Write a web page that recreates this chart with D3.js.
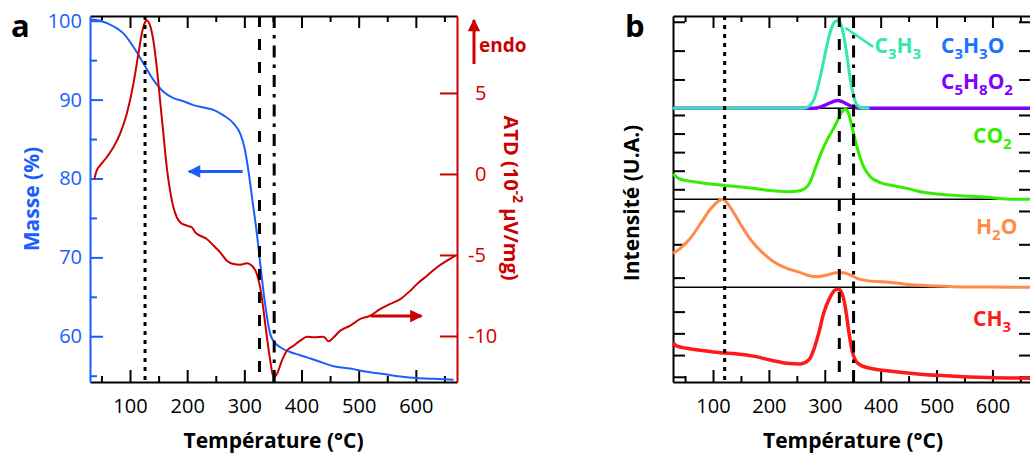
<!DOCTYPE html>
<html><head><meta charset="utf-8">
<script src="https://cdn.jsdelivr.net/npm/d3@7"></script>
<style>
body{margin:0;background:#fff}
svg{display:block}
text{font-family:"Open Sans",Lato,sans-serif}
</style>
</head><body>
<svg id="c" width="1030" height="454"></svg>
<script>
// ---------- DATA ----------
// Panel a : mass loss (TG)
const tempMasse = [30,47.5,70.9,88.4,105.9,123.4,140.9,158.4,175.9,193.5,211,228.5,246,263.5,281,292.7,300,307.3,314,321.9,326.6,335.3,345.2,352,362.8,380,397.8,427,456,485,514.5,543.7,573,602,631,666];
const masse = [100.2,100.0,99.3,98.4,96.7,94.6,92.5,91.0,90.2,89.8,89.3,89.0,88.7,88.0,87.0,85.7,84.0,80.9,77.3,73.0,70.0,64.6,60.3,59.3,58.6,58.0,57.6,56.9,56.2,55.9,55.5,55.2,54.9,54.7,54.6,54.5];
// Panel a : DTA (ATD)
const tempATD = [37.6,41.7,47.5,59.2,70.9,82.5,94.2,105.9,114.6,120.5,126.3,129.2,135.1,140.9,146.8,152.6,158.4,164.3,170.1,175.9,181.8,187.6,199.3,208.1,214,222.6,234.3,246,257.7,269.4,281,292.7,304.4,313.2,321.9,327.7,333.6,339.5,345.3,351.1,356.9,365.7,374.4,386.1,397.8,409.5,421.1,438.6,447.4,456.2,467.8,485.3,502.9,520.4,537.9,555.4,572.9,590.4,602.1,619.6,637.1,654.6,669.2];
const atd = [-0.31,0.21,0.51,1.03,1.65,2.47,3.70,5.56,7.41,8.64,9.36,9.47,9.16,8.23,6.58,4.53,2.47,0.41,-1.03,-2.06,-2.67,-2.98,-3.19,-3.29,-3.60,-3.81,-4.01,-4.42,-4.84,-5.35,-5.56,-5.60,-5.51,-5.66,-6.17,-7.00,-8.44,-10.08,-11.52,-12.55,-12.35,-11.52,-10.91,-10.60,-10.29,-10.04,-10.08,-10.04,-10.33,-10.08,-9.67,-9.36,-8.95,-8.74,-8.33,-8.02,-7.72,-7.20,-6.79,-6.28,-5.76,-5.35,-5.04];
// Panel b : mass spectrometry signals (arbitrary units, each in its own sub-panel)
const tempC3H3 = [28.4,150,262,274,280,289,298,307,316,323,327.7,333.6,339.6,345.6,351.5,357.5,369.4,380];
const c3h3 =     [0,0,0,0.11,0.28,0.85,1.65,2.44,2.96,3.04,2.96,2.55,1.85,1.0,0.45,0.12,0,0];
const tempC5H8O2 = [28.4,200,280,292,304,316,323,330,340,352,365,400,669];
const c5h8o2 =     [0,0,0,0.04,0.14,0.24,0.27,0.24,0.14,0.04,0,0,0];
const tempCO2 = [28.4,41.5,65.3,113,172.6,202.5,232.4,250.3,265.2,274.1,283,292,304,315.8,324.7,330.7,336.6,342.6,348.6,357.5,369.4,381.4,399.3,423.1,447,470.8,500.6,530.4,590,625.8,667.6];
const co2 =     [1.82,1.54,1.41,1.23,1.05,0.93,0.87,0.89,1.05,1.41,2.13,2.85,3.65,4.28,4.82,5.18,5.31,5.09,4.37,3.29,2.22,1.68,1.36,1.19,1.05,0.87,0.75,0.68,0.57,0.48,0.46];
const tempH2O = [28.4,41.5,59.4,77.3,95.2,110,116,122,134,149,166.9,184.8,208.6,232.4,256.3,274.1,286,304,321.8,333.6,345.6,357.5,375.4,399.3,411,441,470.8,530.4,590,667.6];
const h2o =     [1.73,1.88,2.18,2.61,3.05,3.30,3.35,3.30,3.03,2.61,2.15,1.81,1.48,1.28,1.15,1.05,1.03,1.08,1.15,1.15,1.08,0.98,0.91,0.88,0.87,0.81,0.77,0.73,0.72,0.71];
const tempCH3 = [28.4,35.6,53.5,83.3,113,143,172.6,202.5,232.4,256.3,271.2,280,289,298,310,319,324.7,330.7,336.6,342.6,348.6,354.5,363.5,381.4,411,470.8,530.4,590,667.6];
const ch3 =     [2.57,2.41,2.31,2.20,2.11,2.05,1.95,1.77,1.62,1.59,1.77,2.23,3.00,3.92,4.69,5.00,5.03,4.84,4.23,3.15,2.23,1.77,1.54,1.39,1.28,1.12,1.03,0.97,0.93];
// Tick labels / reference lines
const xMajor = [100,200,300,400,500,600];
const xMinor = [50,150,250,350,450,550,650];
const masseMajor = [60,70,80,90,100];
const masseMinor = [55,65,75,85,95];
const atdTicks = [-10,-5,0,5];
const refA = [126.3,326.5,352.2];
const refB = [120.8,326,351.5];

// ---------- DRAW ----------
const svg = d3.select("#c");
const BLUE = "#1a5eff", DRED = "#cc0000";
const dashStyles = ["4,5","11,12","12,7,3.5,7"];
const FONT = "'Open Sans', Lato, sans-serif";

function styleAxis(g, color, width){
  g.attr("color", color);
  g.selectAll("line").attr("stroke-width", width);
  g.selectAll(".domain").attr("stroke-width", width);
  g.selectAll("text").attr("font-size", 20).attr("font-family", FONT);
}

// ===== Panel a =====
const xA = d3.scaleLinear().domain([30, 672]).range([90, 457]);
const yM = d3.scaleLinear().domain([54.2, 100.6]).range([382, 16]);
const yD = d3.scaleLinear().domain([-12.84, 9.75]).range([382, 16]);
const ga = svg.append("g");

let g = ga.append("g").attr("transform","translate(0,382)")
  .call(d3.axisBottom(xA).tickValues(xMajor).tickSizeInner(-12).tickSizeOuter(0).tickPadding(17).tickFormat(d=>d));
styleAxis(g,"#000",2);
g = ga.append("g").attr("transform","translate(0,382)")
  .call(d3.axisBottom(xA).tickValues(xMinor).tickSizeInner(-6).tickSizeOuter(0).tickFormat(""));
styleAxis(g,"#000",2); g.select(".domain").remove();
g = ga.append("g").attr("transform","translate(0,16)")
  .call(d3.axisTop(xA).tickValues(xMajor).tickSizeInner(-12).tickSizeOuter(0).tickFormat(""));
styleAxis(g,"#000",2);
g = ga.append("g").attr("transform","translate(0,16)")
  .call(d3.axisTop(xA).tickValues(xMinor).tickSizeInner(-6).tickSizeOuter(0).tickFormat(""));
styleAxis(g,"#000",2); g.select(".domain").remove();

g = ga.append("g").attr("transform","translate(90,0)")
  .call(d3.axisLeft(yM).tickValues(masseMajor).tickSizeInner(-13).tickSizeOuter(0).tickPadding(8).tickFormat(d=>d));
styleAxis(g,BLUE,2);
g = ga.append("g").attr("transform","translate(90,0)")
  .call(d3.axisLeft(yM).tickValues(masseMinor).tickSizeInner(-7).tickSizeOuter(0).tickFormat(""));
styleAxis(g,BLUE,2); g.select(".domain").remove();

g = ga.append("g").attr("transform","translate(457,0)")
  .call(d3.axisRight(yD).tickValues(atdTicks).tickSizeInner(-17).tickSizeOuter(0).tickPadding(11).tickFormat(d=>String(d).replace("−","-")));
styleAxis(g,DRED,2);
g.selectAll(".tick text").attr("x", d => d >= 0 ? 18 : 11);

const lineM = d3.line().x((d,i)=>xA(tempMasse[i])).y(d=>yM(d)).curve(d3.curveMonotoneX);
ga.append("path").datum(masse).attr("d",lineM).attr("fill","none").attr("stroke",BLUE).attr("stroke-width",2);
const lineD = d3.line().x((d,i)=>xA(tempATD[i])).y(d=>yD(d)).curve(d3.curveMonotoneX);
ga.append("path").datum(atd).attr("d",lineD).attr("fill","none").attr("stroke",DRED).attr("stroke-width",2);

ga.selectAll(".ref").data(refA).enter().append("line")
  .attr("x1",d=>xA(d)).attr("x2",d=>xA(d)).attr("y1",16).attr("y2",382)
  .attr("stroke","#000").attr("stroke-width",3).attr("stroke-dasharray",(d,i)=>dashStyles[i]);

const defs = svg.append("defs");
function marker(id,color){
  defs.append("marker").attr("id",id).attr("viewBox","0 0 10 10").attr("refX",9).attr("refY",5)
    .attr("markerWidth",5).attr("markerHeight",4.2).attr("markerUnits","strokeWidth").attr("orient","auto")
    .append("path").attr("d","M0,0L10,5L0,10Z").attr("fill",color);
}
marker("mb",BLUE); marker("mr",DRED);
ga.append("line").attr("x1",xA(297)).attr("x2",xA(203)).attr("y1",yM(80.9)).attr("y2",yM(80.9))
  .attr("stroke",BLUE).attr("stroke-width",3).attr("marker-end","url(#mb)");
ga.append("line").attr("x1",xA(521)).attr("x2",xA(610)).attr("y1",yD(-8.77)).attr("y2",yD(-8.77))
  .attr("stroke",DRED).attr("stroke-width",3).attr("marker-end","url(#mr)");
ga.append("line").attr("x1",474).attr("x2",474).attr("y1",64).attr("y2",20)
  .attr("stroke",DRED).attr("stroke-width",3).attr("marker-end","url(#mr)");
ga.append("text").attr("x",479).attr("y",52).attr("fill",DRED).attr("font-weight","bold").attr("font-size",19).text("endo");

ga.append("text").attr("transform","translate(38.5,199) rotate(-90)").attr("text-anchor","middle")
  .attr("fill",BLUE).attr("font-weight","bold").attr("font-size",21).text("Masse (%)");
const atdT = ga.append("text").attr("transform","translate(504,198) rotate(90)").attr("text-anchor","middle")
  .attr("fill",DRED).attr("font-weight","bold").attr("font-size",20);
atdT.append("tspan").text("ATD (10");
atdT.append("tspan").attr("font-size",14).attr("dy",-9).text("-2");
atdT.append("tspan").attr("dy",9).text(" µV/mg)");
ga.append("text").attr("x",273.5).attr("y",448).attr("text-anchor","middle").attr("font-weight","bold").attr("font-size",21).text("Température (°C)");
ga.append("text").attr("x",11).attr("y",37).attr("font-weight","bold").attr("font-size",31).text("a");

// ===== Panel b =====
const xB = d3.scaleLinear().domain([28.4, 669]).range([673, 1031]);
const gb = svg.append("g");
const panels = [
  {dom:[0,3.2],     rng:[108.3,16],    ticks:[1,2,3]},
  {dom:[0.46,5.36], rng:[199.3,108.3], ticks:[1,2,3,4,5]},
  {dom:[0.71,3.35], rng:[287.3,199.3], ticks:[1,2,3]},
  {dom:[0.76,5.12], rng:[382,287.3],   ticks:[1,2,3,4]}
];
panels.forEach(p=>{ p.y = d3.scaleLinear().domain(p.dom).range(p.rng); });

g = gb.append("g").attr("transform","translate(0,382)")
  .call(d3.axisBottom(xB).tickValues(xMajor).tickSizeInner(-12).tickSizeOuter(0).tickPadding(17).tickFormat(d=>d));
styleAxis(g,"#000",2);
g = gb.append("g").attr("transform","translate(0,382)")
  .call(d3.axisBottom(xB).tickValues(xMinor).tickSizeInner(-6).tickSizeOuter(0).tickFormat(""));
styleAxis(g,"#000",2); g.select(".domain").remove();
g = gb.append("g").attr("transform","translate(0,16)")
  .call(d3.axisTop(xB).tickValues(xMajor).tickSizeInner(-12).tickSizeOuter(0).tickFormat(""));
styleAxis(g,"#000",2);
g = gb.append("g").attr("transform","translate(0,16)")
  .call(d3.axisTop(xB).tickValues(xMinor).tickSizeInner(-6).tickSizeOuter(0).tickFormat(""));
styleAxis(g,"#000",2); g.select(".domain").remove();

panels.forEach((p,i)=>{
  let a = gb.append("g").attr("transform","translate(673,0)")
    .call(d3.axisLeft(p.y).tickValues(p.ticks).tickSizeInner(-12).tickSizeOuter(0).tickFormat(""));
  styleAxis(a,"#000",2);
  a = gb.append("g").attr("transform","translate(1031,0)")
    .call(d3.axisRight(p.y).tickValues(p.ticks).tickSizeInner(-12).tickSizeOuter(0).tickFormat(""));
  styleAxis(a,"#000",2);
  if(i>0){
    gb.append("line").attr("x1",673).attr("x2",1031).attr("y1",p.rng[1]).attr("y2",p.rng[1])
      .attr("stroke","#000").attr("stroke-width",1.5);
  }
});

function curve(temps, vals, p, color, w){
  const l = d3.line().x((d,i)=>xB(temps[i])).y(d=>p.y(d)).curve(d3.curveMonotoneX);
  gb.append("path").datum(vals).attr("d",l).attr("fill","none").attr("stroke",color).attr("stroke-width",w).attr("stroke-linejoin","round");
}
const TEAL="#33e8b0", PURP="#8000ff", LBLUE="#1a73ff", GREEN="#33ee00", ORANGE="#ff8a4a", RED="#ff1a1a";
curve(tempC5H8O2, c5h8o2, panels[0], PURP, 3.5);
curve(tempC3H3, c3h3, panels[0], TEAL, 3);
curve(tempCO2, co2, panels[1], GREEN, 3);
curve(tempH2O, h2o, panels[2], ORANGE, 3);
curve(tempCH3, ch3, panels[3], RED, 3.5);

gb.selectAll(".ref").data(refB).enter().append("line")
  .attr("x1",d=>xB(d)).attr("x2",d=>xB(d)).attr("y1",16).attr("y2",382)
  .attr("stroke","#000").attr("stroke-width",3).attr("stroke-dasharray",(d,i)=>dashStyles[i]);

gb.append("line").attr("x1",xB(336.7)).attr("y1",panels[0].y(2.79)).attr("x2",xB(386.5)).attr("y2",panels[0].y(2.13))
  .attr("stroke",TEAL).attr("stroke-width",2.5);

function formula(x, y, parts, color){
  const t = gb.append("text").attr("x",x).attr("y",y).attr("fill",color).attr("font-weight","bold").attr("font-size",21);
  let sub = false;
  parts.forEach(s=>{
    const isSub = /^[0-9]$/.test(s);
    const ts = t.append("tspan").text(s);
    if(isSub){ ts.attr("font-size",15); if(!sub){ ts.attr("dy",6); sub=true; } }
    else if(sub){ ts.attr("dy",-6); sub=false; }
  });
}
formula(874.5, 53, ["C","3","H","3"], TEAL);
formula(941, 53, ["C","3","H","3","O"], LBLUE);
formula(941, 89, ["C","5","H","8","O","2"], PURP);
formula(973, 143, ["CO","2"], GREEN);
formula(976, 234, ["H","2","O"], ORANGE);
formula(973, 326, ["CH","3"], RED);

gb.append("text").attr("transform","translate(639,203) rotate(-90)").attr("text-anchor","middle")
  .attr("font-weight","bold").attr("font-size",21).text("Intensité (U.A.)");
gb.append("text").attr("x",853).attr("y",448).attr("text-anchor","middle").attr("font-weight","bold").attr("font-size",21).text("Température (°C)");
gb.append("text").attr("x",625).attr("y",37).attr("font-weight","bold").attr("font-size",31).text("b");
</script>
</body></html>
